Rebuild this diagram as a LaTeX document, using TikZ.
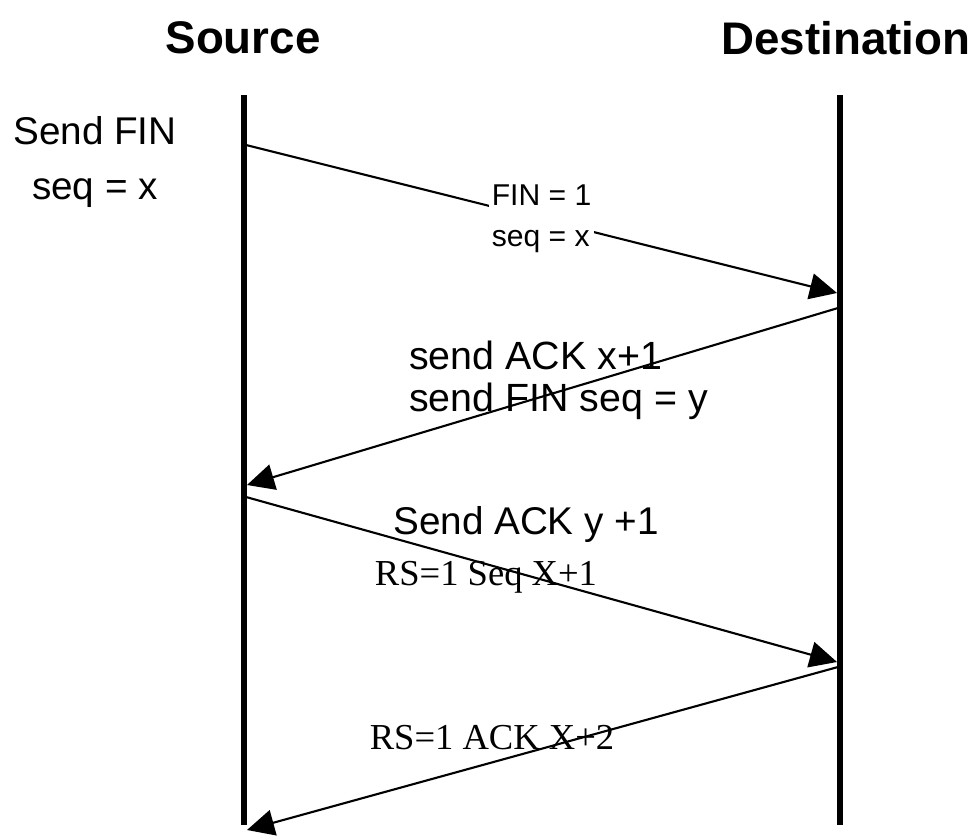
\documentclass[tikz,border=0pt]{standalone}
\usepackage{fontspec}
\setmainfont{Liberation Sans}
\newfontfamily\timesfont{Liberation Serif}
\usetikzlibrary{arrows.meta}

\begin{document}
\begin{tikzpicture}[%
        x = 0.025cm,
        y = -0.025cm,
        line cap = butt,
        msg/.style = {
            line width = 1.5pt,
            -{Triangle[length=0.68cm, width=0.65cm]}
        },
        lifeline/.style = {line width = 4.2pt},
        title/.style = {font = \bfseries\fontsize{32.5}{39}\selectfont},
        every node/.style = {inner sep = 0pt}
    ]
        \useasboundingbox (0,0) rectangle (980,840);

        % Titles of the two ends.
        \node[title] (srctitle) at (243,38) {Source};
        \node[title] (dsttitle) at (846,38) {Destination};

        % Ends of the two lifelines and of the messages.
        \coordinate (srctop) at (244,95);
        \coordinate (srcbot) at (244,825);
        \coordinate (dsttop) at (840,95);
        \coordinate (dstbot) at (840,825);

        \coordinate (s1) at (246,145);
        \coordinate (d1) at (837,293);
        \coordinate (d2) at (838,308);
        \coordinate (s2) at (247,485);
        \coordinate (s3) at (246,497);
        \coordinate (d3) at (837,662);
        \coordinate (d4) at (838,667);
        \coordinate (s4) at (247,830);

        % The lifelines.
        \draw[lifeline] (srctop) to (srcbot);
        \draw[lifeline] (dsttop) to (dstbot);

        % The messages.
        \draw[msg] (s1) to node[fill = white, align = left, inner sep = 2pt,
            font = \fontsize{21.4}{29}\selectfont] (fin) {FIN = 1\\seq = x} (d1);
        \draw[msg] (d2) to (s2);
        \draw[msg] (s3) to (d3);
        \draw[msg] (d4) to (s4);

        % Text beside the messages.
        \node[align = center, font = \fontsize{27.5}{39}\selectfont]
            (sendfin) at (95,162) {Send FIN\\seq = x};
        \node[align = left, anchor = west, font = \fontsize{28}{30}\selectfont]
            (ackfin) at (409,380) {send ACK x+1\\send FIN seq = y};
        \node[font = \fontsize{27.5}{33}\selectfont] (acky) at (526,524) {Send ACK y +1};
        \node[font = \timesfont\fontsize{26}{31}\selectfont] (rsseq) at (486,577) {RS=1 Seq X+1};
        \node[font = \timesfont\fontsize{26}{31}\selectfont] (rsack) at (492,738) {RS=1 ACK X+2};
    \end{tikzpicture}
\end{document}
